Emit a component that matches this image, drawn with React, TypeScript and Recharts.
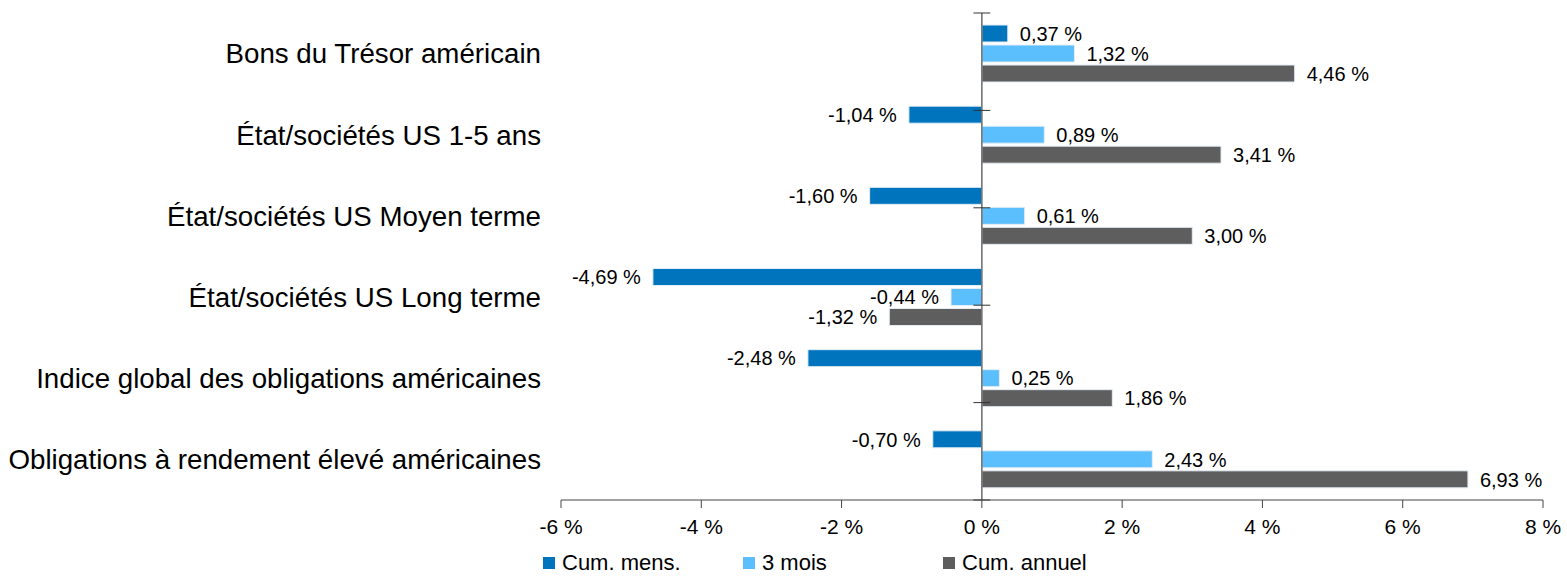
import React from "react";
import {
  BarChart,
  Bar,
  XAxis,
  YAxis,
  ReferenceLine,
  LabelList,
  Legend,
} from "recharts";

const categories = [
  "Bons du Trésor américain",
  "État/sociétés US 1-5 ans",
  "État/sociétés US Moyen terme",
  "État/sociétés US Long terme",
  "Indice global des obligations américaines",
  "Obligations à rendement élevé américaines",
];

const cumMens = [0.37, -1.04, -1.6, -4.69, -2.48, -0.7];
const troisMois = [1.32, 0.89, 0.61, -0.44, 0.25, 2.43];
const cumAnnuel = [4.46, 3.41, 3.0, -1.32, 1.86, 6.93];

const xTicks = [-6, -4, -2, 0, 2, 4, 6, 8];
const bandEdges = [0, 1, 2, 3, 4, 5, 6];

const series = [
  { key: "mens", name: "Cum. mens.", color: "#0075BE" },
  { key: "mois", name: "3 mois", color: "#5BBFFD" },
  { key: "annuel", name: "Cum. annuel", color: "#5E5E5E" },
];

const data = categories.map((name, i) => ({
  name,
  mens: cumMens[i],
  mois: troisMois[i],
  annuel: cumAnnuel[i],
}));

const FONT = "'Liberation Sans', Arial, sans-serif";

const pct = (v: number) => `${v.toFixed(2).replace(".", ",")} %`;

function ValueLabel(props: any) {
  const { x, y, width, height, value } = props;
  const v = Number(value);
  const left = Math.min(x, x + width);
  const right = Math.max(x, x + width);
  const pos = v >= 0;
  return (
    <text
      x={pos ? right + 12 : left - 12}
      y={y + height / 2}
      dy="0.36em"
      textAnchor={pos ? "start" : "end"}
      fontSize={20}
      fontFamily={FONT}
      fill="#000"
    >
      {pct(v)}
    </text>
  );
}

function LegendContent() {
  return (
    <div style={{ display: "flex", fontFamily: FONT, fontSize: 22, color: "#000" }}>
      {series.map((s) => (
        <div key={s.key} style={{ width: 200, display: "flex", alignItems: "center" }}>
          <span
            style={{
              display: "inline-block",
              width: 12,
              height: 12,
              background: s.color,
              marginRight: 7,
            }}
          />
          <span>{s.name}</span>
        </div>
      ))}
    </div>
  );
}

export default function App() {
  return (
    <div style={{ position: "absolute", left: 0, top: 0, background: "#fff" }}>
      <BarChart
        width={1567}
        height={578}
        data={data}
        layout="vertical"
        margin={{ top: 13, right: 24, left: 0, bottom: 38 }}
        barSize={17}
        barGap={3}
        barCategoryGap={12}
      >
        <XAxis
          type="number"
          domain={[-6, 8]}
          ticks={xTicks}
          tickFormatter={(v) => `${v} %`}
          height={40}
          tickSize={8}
          tickMargin={11}
          axisLine={{ stroke: "#444" }}
          tickLine={{ stroke: "#444" }}
          tick={{ fontSize: 21, fill: "#000", fontFamily: FONT }}
        />
        <YAxis
          type="category"
          dataKey="name"
          width={561}
          axisLine={false}
          tickLine={false}
          tickSize={0}
          tickMargin={20}
          interval={0}
          tick={{ fontSize: 27.7, fill: "#000", fontFamily: FONT }}
        />
        <YAxis yAxisId="edges" type="number" domain={[0, 6]} hide />
        {series.map((s) => (
          <Bar
            key={s.key}
            dataKey={s.key}
            name={s.name}
            fill={s.color}
            stroke="#e4edf5"
            strokeWidth={1}
            isAnimationActive={false}
          >
            <LabelList dataKey={s.key} content={ValueLabel} />
          </Bar>
        ))}
        <ReferenceLine x={0} stroke="#6b6b6b" strokeWidth={1.5} />
        {bandEdges.map((e) => (
          <ReferenceLine
            key={e}
            yAxisId="edges"
            segment={[
              { x: -0.12, y: e },
              { x: 0.12, y: e },
            ]}
            stroke="#333"
            strokeWidth={1}
          />
        ))}
        <Legend
          layout="horizontal"
          verticalAlign="middle"
          align="center"
          content={LegendContent}
          wrapperStyle={{ left: 543, top: 550, width: 700 }}
        />
      </BarChart>
    </div>
  );
}
